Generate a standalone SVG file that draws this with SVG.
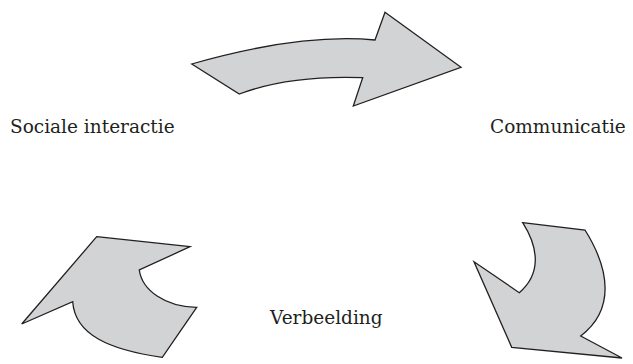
<svg xmlns="http://www.w3.org/2000/svg" width="633" height="364" viewBox="0 0 633 364">
<style>
.arrow{fill:#d1d3d4;stroke:#231f20;stroke-width:1.3;stroke-linejoin:miter}
.lbl{font-family:"DejaVu Serif",serif;font-size:18.5px;fill:#231f20}
</style>
<rect width="633" height="364" fill="#fff"/>
<g id="connectors">
<path id="arrow-top" class="arrow" d="M191.7,64 L239.3,94 Q290,75 362.7,77.7 L353.3,106 L461,67.3 L385,12.3 L375,40 Q300,33 191.7,64 Z"/>
<path id="arrow-right" class="arrow" d="M522.7,222.7 L585,230 C610,270 615,310 580.7,336 L622,358 L511.7,347.3 L474,261.7 L519.3,292.7 C540,275 540,250 522.7,222.7 Z"/>
<path id="arrow-left" class="arrow" d="M96.7,236.7 L190,246.7 L139.3,270 C142,290 165,307 196.7,307.3 L162.3,357.3 C110,350 75,335 72.7,301.7 L21.7,324 Z"/>
</g>
<g id="node-sociale"><text class="lbl" x="10" y="133">Sociale interactie</text></g>
<g id="node-communicatie"><text class="lbl" x="490" y="133">Communicatie</text></g>
<g id="node-verbeelding"><text class="lbl" x="270" y="324">Verbeelding</text></g>
</svg>
